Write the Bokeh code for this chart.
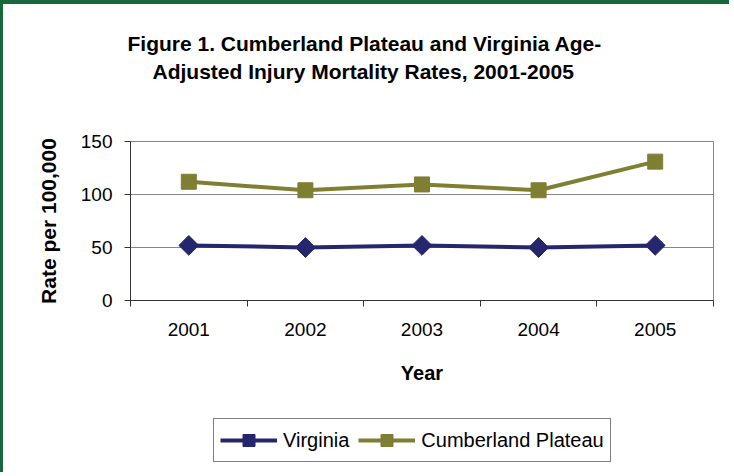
from bokeh.plotting import figure
from bokeh.models import Legend, LegendItem, FixedTicker, Range1d, Title
from bokeh.layouts import column
from bokeh.embed import file_html
from bokeh.resources import INLINE
import math

years = ["2001", "2002", "2003", "2004", "2005"]
virginia = [52, 50, 52, 50, 52]
cumberland = [112, 104, 109.5, 104, 131]
y_ticks = [0, 50, 100, 150]

FONT = "Liberation Sans"
NAVY = "#26266e"
OLIVE = "#7f7f33"
GREEN = "#17693d"

xs = [i + 1 for i in range(len(years))]

p = figure(output_backend="svg", toolbar_location=None,
           x_range=Range1d(0.5, len(years) + 0.5), y_range=Range1d(0, 150),
           min_border_left=127, min_border_right=19, min_border_top=137, min_border_bottom=100,
           frame_width=580, frame_height=155)
p.background_fill_color = "white"
p.border_fill_color = "white"
p.outline_line_color = "#868686"
p.outline_line_width = 1

# axes
p.yaxis.ticker = FixedTicker(ticks=y_ticks)
p.yaxis.major_label_text_font = FONT
p.yaxis.major_label_text_font_size = "19px"
p.yaxis.major_label_text_color = "black"
p.yaxis.major_tick_out = 6
p.yaxis.major_tick_in = 0
p.yaxis.minor_tick_out = 0
p.yaxis.minor_tick_in = 0
p.yaxis.axis_line_color = "#333333"
p.yaxis.major_tick_line_color = "#333333"
p.yaxis.major_label_standoff = 12
p.yaxis.axis_label = "Rate per 100,000"
p.yaxis.axis_label_text_font = FONT
p.yaxis.axis_label_text_font_style = "bold"
p.yaxis.axis_label_text_font_size = "21px"
p.yaxis.axis_label_text_color = "black"
p.yaxis.axis_label_standoff = 18

p.xaxis.ticker = FixedTicker(ticks=xs, minor_ticks=[x - 0.5 for x in xs] + [xs[-1] + 0.5])
p.xaxis.major_label_overrides = {x: y for x, y in zip(xs, years)}
p.xaxis.major_label_text_font = FONT
p.xaxis.major_label_text_font_size = "19px"
p.xaxis.major_label_text_color = "black"
p.xaxis.major_tick_out = 0
p.xaxis.major_tick_in = 0
p.xaxis.minor_tick_out = 6
p.xaxis.minor_tick_in = 0
p.xaxis.minor_tick_line_color = "#333333"
p.xaxis.axis_line_color = "#333333"
p.xaxis.major_label_standoff = 16
p.xaxis.axis_label = "Year"
p.xaxis.axis_label_text_font = FONT
p.xaxis.axis_label_text_font_style = "bold"
p.xaxis.axis_label_text_font_size = "20px"
p.xaxis.axis_label_text_color = "black"
p.xaxis.axis_label_standoff = 23

p.xgrid.grid_line_color = None
p.ygrid.ticker = FixedTicker(ticks=y_ticks)
p.ygrid.grid_line_color = "#868686"
p.ygrid.grid_line_width = 1

# series
p.line(xs, virginia, line_color=NAVY, line_width=4)
p.scatter(xs, virginia, marker="square", angle=math.pi / 4, size=14,
          fill_color=NAVY, line_color=NAVY)
p.line(xs, cumberland, line_color=OLIVE, line_width=4)
p.scatter(xs, cumberland, marker="square", size=15,
          fill_color=OLIVE, line_color=OLIVE)

# titles: p.title is outermost; added panels stack toward the frame
p.title = Title(text="Figure 1. Cumberland Plateau and Virginia Age-", align="left", offset=-3,
                text_font=FONT, text_font_style="bold", text_font_size="21px",
                text_color="black", standoff=3)
p.add_layout(Title(text=" ", text_font_size="1px", standoff=54), "above")
p.add_layout(Title(text="Adjusted Injury Mortality Rates, 2001-2005", align="left", offset=22,
                   text_font=FONT, text_font_style="bold", text_font_size="21px",
                   text_color="black", standoff=3), "above")
p.styles = {"border-top": f"4px solid {GREEN}", "border-left": f"3px solid {GREEN}"}

# legend strip (its own frame, so the legend is not clipped by the chart's frame)
q = figure(width=726, height=76, output_backend="svg", toolbar_location=None,
           x_range=Range1d(-10, -9), y_range=Range1d(-10, -9),
           min_border_left=0, min_border_right=0, min_border_top=0, min_border_bottom=0)
q.axis.visible = False
q.grid.visible = False
q.outline_line_color = None
q.background_fill_color = "white"
q.border_fill_color = "white"
lv = q.line(xs, virginia, line_color=NAVY, line_width=4)
mv = q.scatter(xs, virginia, marker="square", angle=math.pi / 4, size=14,
               fill_color=NAVY, line_color=NAVY)
lc = q.line(xs, cumberland, line_color=OLIVE, line_width=4)
mc = q.scatter(xs, cumberland, marker="square", size=15,
               fill_color=OLIVE, line_color=OLIVE)
legend = Legend(items=[LegendItem(label="Virginia", renderers=[lv, mv]),
                       LegendItem(label="Cumberland Plateau", renderers=[lc, mc])],
                orientation="horizontal", location=(83, 10),
                label_text_font=FONT, label_text_font_size="20px", label_text_color="black",
                glyph_width=57, glyph_height=30, spacing=9, padding=6, margin=0,
                label_standoff=6, border_line_color="black", border_line_width=1,
                background_fill_alpha=1)
q.add_layout(legend, "center")
q.styles = {"border-left": f"3px solid {GREEN}"}

layout = column(p, q, spacing=0)
open("out.html", "w").write(file_html(layout, INLINE))
